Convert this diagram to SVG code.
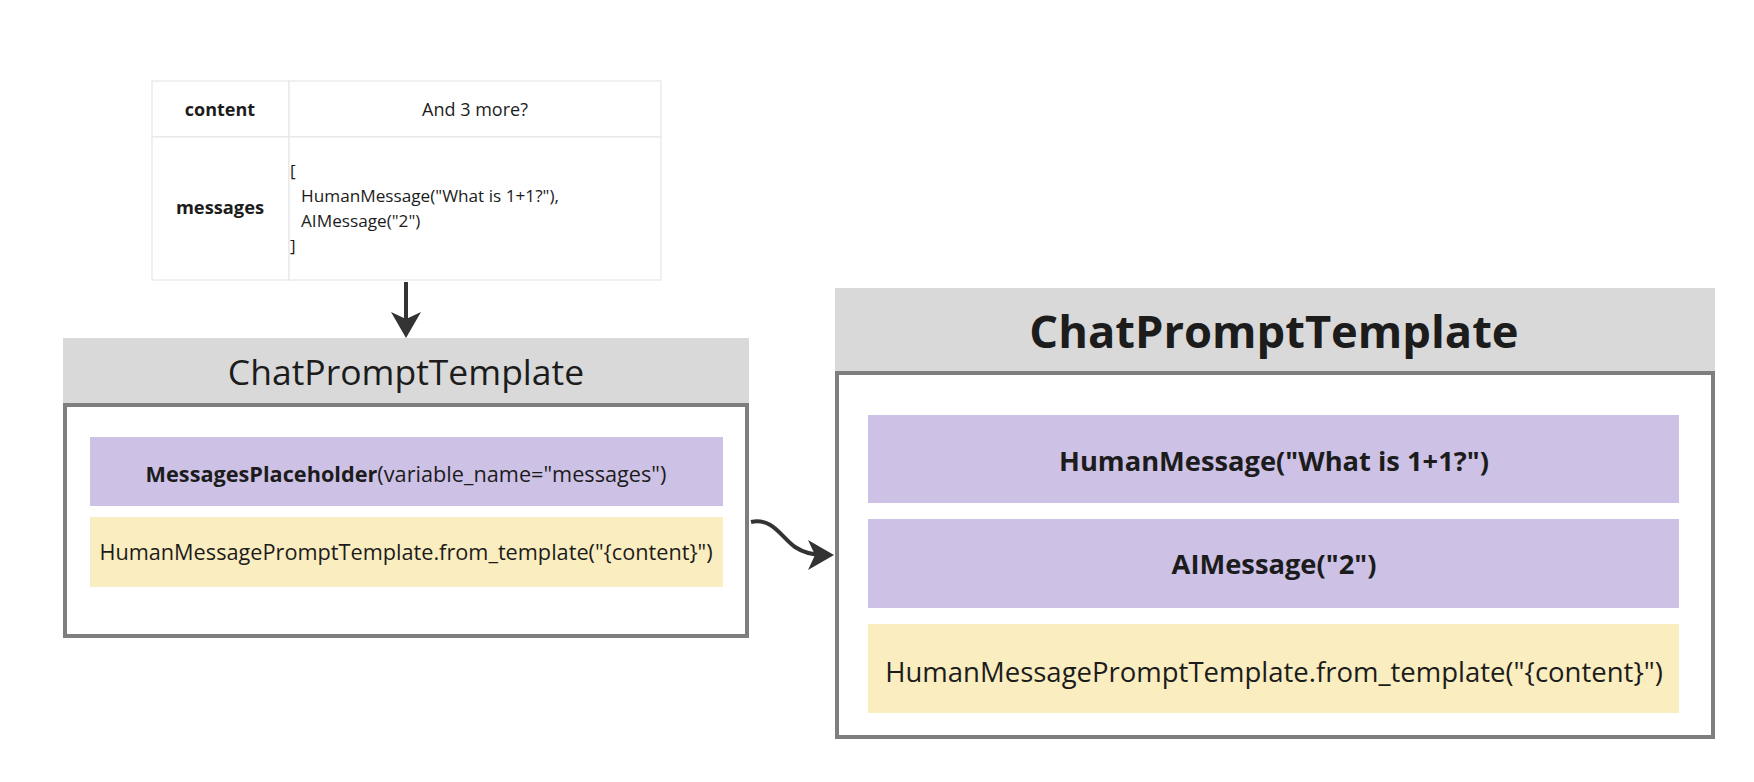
<svg xmlns="http://www.w3.org/2000/svg" width="1754" height="782" viewBox="0 0 1754 782">
<defs>
<style>
text{font-family:"Open Sans","Liberation Sans",sans-serif;fill:#1c1c1c}
.cell{fill:#ffffff;stroke:#e6e6e6;stroke-width:1.2}
.hdr{fill:#d9d9d9}
.body{fill:#ffffff;stroke:#7e7e7e;stroke-width:4}
.purple{fill:#cdc1e6}
.yellow{fill:#faedbf}
.conn{fill:none;stroke:#333333;stroke-width:4}
.b{font-weight:700}
</style>
<marker id="ah" viewBox="0 0 26 30" markerWidth="26" markerHeight="30" refX="16" refY="15" orient="auto" markerUnits="userSpaceOnUse">
<path d="M0,0 L26,15 L0,30 L7,15 Z" fill="#333333"/>
</marker>
</defs>
<rect width="1754" height="782" fill="#ffffff"/>

<g id="inputs">
<rect class="cell" x="152" y="81" width="137" height="56"/>
<rect class="cell" x="289" y="81" width="372" height="56"/>
<rect class="cell" x="152" y="137" width="137" height="143"/>
<rect class="cell" x="289" y="137" width="372" height="143"/>
<text class="b" x="220" y="116" font-size="18" text-anchor="middle">content</text>
<text x="475" y="116" font-size="18" text-anchor="middle">And 3 more?</text>
<text class="b" x="220" y="214" font-size="18.3" text-anchor="middle">messages</text>
<text x="290" y="177" font-size="17.2">[</text>
<text x="301" y="202" font-size="17.2">HumanMessage("What is 1+1?"),</text>
<text x="301" y="227" font-size="17.2">AIMessage("2")</text>
<text x="290" y="252" font-size="17.2">]</text>
</g>

<g id="template-left">
<rect class="body" x="65" y="405" width="682" height="231"/>
<rect class="hdr" x="63" y="338" width="686" height="67"/>
<line x1="63" y1="405" x2="749" y2="405" stroke="#7e7e7e" stroke-width="4"/>
<text x="406" y="385" font-size="35.5" text-anchor="middle">ChatPromptTemplate</text>
<rect class="purple" x="90" y="437" width="633" height="69"/>
<text x="406" y="481.5" font-size="21.7" text-anchor="middle"><tspan class="b">MessagesPlaceholder</tspan>(variable_name="messages")</text>
<rect class="yellow" x="90" y="517" width="633" height="70"/>
<text x="406" y="560" font-size="21.7" text-anchor="middle">HumanMessagePromptTemplate.from_template("{content}")</text>
</g>

<g id="template-right">
<rect class="body" x="837" y="373" width="876" height="364"/>
<rect class="hdr" x="835" y="288" width="880" height="85"/>
<line x1="835" y1="373" x2="1715" y2="373" stroke="#7e7e7e" stroke-width="4"/>
<text class="b" x="1274" y="348" font-size="45.3" text-anchor="middle">ChatPromptTemplate</text>
<rect class="purple" x="868" y="415" width="811" height="88"/>
<text class="b" x="1274" y="471" font-size="27.3" text-anchor="middle">HumanMessage("What is 1+1?")</text>
<rect class="purple" x="868" y="519" width="811" height="89"/>
<text class="b" x="1274" y="574" font-size="27.3" text-anchor="middle">AIMessage("2")</text>
<rect class="yellow" x="868" y="624" width="811" height="89"/>
<text x="1274" y="682" font-size="27.5" text-anchor="middle">HumanMessagePromptTemplate.from_template("{content}")</text>
</g>

<g id="connectors">
<path class="conn" d="M406 282 L406 328" marker-end="url(#ah)"/>
<path class="conn" d="M751 522 C772 517 782 538 795 547 C804 553 812 555 824 555" marker-end="url(#ah)"/>
</g>
</svg>
